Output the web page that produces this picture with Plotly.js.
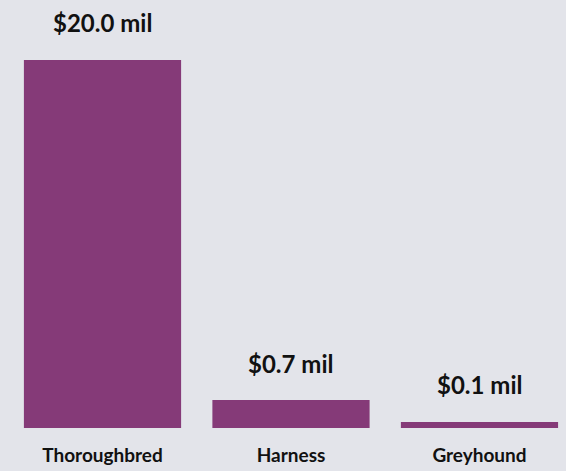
<!DOCTYPE html>
<html>
<head>
<meta charset="utf-8">
<script src="https://cdn.plot.ly/plotly-3.0.1.min.js"></script>
<style>html,body{margin:0;padding:0;background:#e3e4ea;}#chart{width:566px;height:471px;}</style>
</head>
<body>
<div id="chart"></div>
<script>
const categories = ['Thoroughbred', 'Harness', 'Greyhound'];
const labelValues = [20.0, 0.7, 0.1];          // $ million, as labelled
const barHeights = [20.0, 1.52, 0.33];         // drawn bar heights
const labelText = labelValues.map(v => '$' + v.toFixed(1) + ' mil');

const FONT = 'Lato, "Open Sans", sans-serif';
const trace = {
  type: 'bar',
  x: categories,
  y: barHeights,
  marker: {color: '#853a78'},
  hoverinfo: 'skip'
};
const annotations = categories.map((c, i) => ({
  x: c, y: barHeights[i], xref: 'x', yref: 'y',
  text: '<b>' + labelText[i] + '</b>',
  showarrow: false, yanchor: 'middle', yshift: 37,
  font: {family: FONT, size: 24, color: '#111111', weight: 900}
}));
const layout = {
  width: 566, height: 471,
  margin: {l: 0, r: 0, t: 0, b: 43},
  paper_bgcolor: '#e3e4ea', plot_bgcolor: '#e3e4ea',
  bargap: 0.166,
  showlegend: false,
  xaxis: {
    range: [-0.5438, 2.459],
    tickfont: {family: FONT, size: 19, color: '#111111', weight: 'bold'},
    showgrid: false, zeroline: false, showline: false, ticks: '',
    ticklabelstandoff: 14
  },
  yaxis: {
    range: [0, 23.26], showgrid: false, zeroline: false,
    showticklabels: false, showline: false, ticks: ''
  },
  annotations: annotations
};
Plotly.newPlot('chart', [trace], layout, {displayModeBar: false, staticPlot: true});
</script>
</body>
</html>
